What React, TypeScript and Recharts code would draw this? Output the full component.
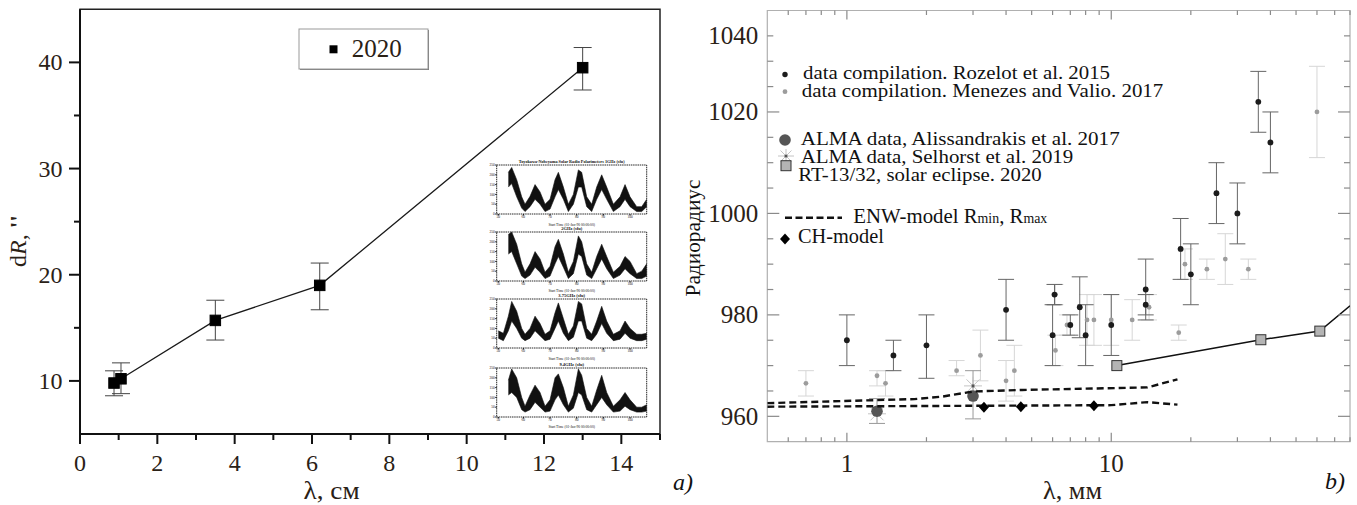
import React from "react";
import {
  ComposedChart,
  AreaChart,
  Area,
  Scatter,
  ErrorBar,
  XAxis,
  YAxis,
  ReferenceArea,
} from "recharts";

const SERIF = "'Liberation Serif', 'DejaVu Serif', serif";
const INK = "#2a2116";
const TXT = { fontFamily: SERIF };
const TICK_B = "#8a8a8a";

// ---- panel a) : dR vs wavelength, eclipse 2020 ----
const lambdaCm = [0.88, 1.06, 3.5, 6.2, 13.0];
const dR = [9.8, 10.2, 15.7, 19.0, 39.5];
const dRLow = [8.6, 8.8, 13.85, 16.7, 37.4];
const dRHigh = [10.95, 11.7, 17.6, 21.1, 41.4];
const xMajorA = [0, 2, 4, 6, 8, 10, 12, 14];
const xMinorA = [1, 3, 5, 7, 9, 11, 13, 15];
const yMajorA = [10, 20, 30, 40];
const yMinorA = [15, 25, 35];

// ---- inset (NoRP daily fluxes) ----
const insetX = [85, 100, 115, 125, 140, 155, 165, 180, 195, 210, 225, 240, 255, 265, 280, 295, 310, 325, 335, 350, 365, 380, 395, 410, 430, 450, 465, 480, 500, 515, 530];
const inset1Hi = [null, null, 0.85, 0.95, 0.7, 0.35, 0.2, 0.36, 0.6, 0.45, 0.2, 0.3, 0.7, 0.85, 0.55, 0.2, 0.4, 0.9, 0.85, 0.35, 0.2, 0.55, 0.8, 0.55, 0.2, 0.35, 0.6, 0.35, 0.15, 0.15, 0.3];
const inset1Lo = [null, null, 0.55, 0.62, 0.35, 0.12, 0.05, 0.15, 0.3, 0.2, 0.05, 0.1, 0.35, 0.5, 0.3, 0.05, 0.2, 0.55, 0.55, 0.15, 0.05, 0.3, 0.5, 0.3, 0.05, 0.15, 0.3, 0.15, 0.05, 0.05, 0.15];
const inset2Hi = [null, null, 0.95, 1.0, 0.75, 0.35, 0.18, 0.35, 0.6, 0.45, 0.18, 0.3, 0.7, 0.85, 0.55, 0.18, 0.4, 0.92, 0.8, 0.35, 0.18, 0.5, 0.75, 0.5, 0.18, 0.3, 0.5, 0.4, 0.15, 0.2, 0.35];
const inset2Lo = [null, null, 0.55, 0.6, 0.35, 0.1, 0.05, 0.12, 0.28, 0.18, 0.05, 0.1, 0.35, 0.5, 0.28, 0.05, 0.15, 0.55, 0.5, 0.12, 0.05, 0.25, 0.45, 0.25, 0.05, 0.12, 0.25, 0.15, 0.05, 0.05, 0.1];
const inset3Hi = [0.35, 0.3, 0.65, 0.95, 0.75, 0.4, 0.28, 0.4, 0.65, 0.5, 0.28, 0.35, 0.72, 0.92, 0.6, 0.28, 0.45, 0.95, 0.9, 0.4, 0.28, 0.55, 0.85, 0.55, 0.28, 0.35, 0.55, 0.4, 0.28, 0.28, 0.3];
const inset3Lo = [0.2, 0.15, 0.35, 0.55, 0.4, 0.2, 0.15, 0.2, 0.35, 0.25, 0.15, 0.18, 0.4, 0.55, 0.3, 0.15, 0.22, 0.55, 0.55, 0.2, 0.15, 0.28, 0.5, 0.3, 0.15, 0.18, 0.3, 0.2, 0.15, 0.15, 0.18];
const inset4Hi = [null, null, 0.75, 0.98, 0.8, 0.4, 0.22, 0.45, 0.65, 0.5, 0.22, 0.35, 0.8, 0.88, 0.6, 0.22, 0.45, 0.98, 0.85, 0.4, 0.22, 0.55, 0.85, 0.5, 0.22, 0.35, 0.5, 0.35, 0.2, 0.2, 0.25];
const inset4Lo = [null, null, 0.45, 0.5, 0.4, 0.15, 0.1, 0.15, 0.3, 0.2, 0.1, 0.12, 0.35, 0.45, 0.25, 0.1, 0.18, 0.5, 0.45, 0.15, 0.1, 0.25, 0.4, 0.25, 0.1, 0.12, 0.22, 0.15, 0.1, 0.1, 0.12];
const insetTitles = [
  "Toyokawa-Nobeyama Solar Radio Polarimeters 1GHz (sfu)",
  "2GHz (sfu)",
  "3.75GHz (sfu)",
  "9.4GHz (sfu)",
];
const insetTicks = [85, 160, 240, 320, 400, 480];
const insetTickText = ["50", "60", "70", "80", "90", "100"];
const insetYTicks = [0, 0.2, 0.4, 0.6, 0.8, 1.0];
const insetYText = ["0", "50", "100", "150", "200", "250"];

// ---- panel b) : radio radius vs wavelength ----
const rozX = [1.0, 1.5, 2.0, 4.0, 6.0, 6.1, 7.0, 7.6, 8.0, 10.0, 13.5, 13.5, 18.3, 20, 25, 30, 36, 40];
const rozY = [975, 972, 974, 981, 976, 984, 978, 981.5, 976, 978, 985, 982, 993, 988, 1004, 1000, 1022, 1014];
const rozLo = [970, 969, 967.5, 975, 970, 982, 976, 975.5, 970, 972, 979, 980, 987, 982, 998, 994, 1016, 1008];
const rozHi = [980, 975, 980, 987, 982, 986, 980, 987.5, 982, 984, 991, 984, 999, 994, 1010, 1006, 1028, 1020];

const menX = [0.7, 1.3, 1.4, 2.6, 3.2, 4.0, 4.3, 6.15, 6.15, 6.8, 8.1, 8.6, 10, 12, 13.9, 18, 19, 23, 27, 33, 60];
const menY = [966.5, 968, 966.5, 969, 972, 967, 969, 973, 984, 978, 979, 979, 979, 979, 981.5, 976.5, 990, 989, 991, 989, 1020];
const menLo = [964, 966, 964, 968, 967, 963, 964, 970, 982, 976, 974, 974, 974, 975, 979, 975, 987, 987, 986, 987, 1011];
const menHi = [969, 969, 969, 971, 977, 971, 974, 976, 986, 980, 984, 984, 984, 983, 984, 978, 993, 991, 996, 991, 1029];

const almaX = [1.3, 3.0];
const almaY = [961, 964];
const almaLo = [958.6, 959.5];
const almaHi = [963.5, 969];
const selX = [1.3, 3.0];
const selY = [960.5, 966];

const rtX = [10.5, 36.8, 61.5];
const rtY = [970, 975.1, 976.8];
const rtEdgeX = 80;
const rtEdgeY = 981.8;

const enwMaxX = [0.5, 1.3, 1.8, 2.3, 3.0, 4.6, 13.7, 17.8];
const enwMaxY = [962.6, 963.2, 963.4, 963.9, 964.9, 965.2, 965.7, 967.3];
const enwMinX = [0.5, 10, 13.7, 17.8];
const enwMinY = [961.9, 962.2, 962.8, 962.3];

const chX = [3.3, 4.55, 8.6];
const chY = [961.8, 961.9, 962.1];

const xMajorB = [1, 10];
const xMinorB = [0.6, 0.7, 0.8, 0.9, 2, 3, 4, 5, 6, 7, 8, 9, 20, 30, 40, 50, 60, 70, 80];
const yTicksB = [960, 965, 970, 975, 980, 985, 990, 995, 1000, 1005, 1010, 1015, 1020, 1025, 1030, 1035];
const yMajorB = [960, 980, 1000, 1020];
const yLabelTicksB = [960, 980, 1000, 1020, 1035];
const yLabelTextB = ["960", "980", "1000", "1020", "1040"];

const pts = (xs: number[], ys: number[], lo?: number[], hi?: number[]) =>
  xs.map((x, i) => ({
    x,
    y: ys[i],
    err: lo && hi ? [ys[i] - lo[i], hi[i] - ys[i]] : undefined,
  }));

// ---- ticks ----
function leftXTick(p: any) {
  const v = p.payload.value;
  const major = xMajorA.includes(v);
  return (
    <g>
      <line x1={p.x} x2={p.x} y1={p.y} y2={p.y + (major ? 10 : 6)} stroke="#111" strokeWidth={2} />
      {major ? (
        <text x={p.x} y={p.y + 37} textAnchor="middle" fontSize={24} style={TXT} fill={INK}>
          {v}
        </text>
      ) : null}
    </g>
  );
}

function leftYTick(p: any) {
  const v = p.payload.value;
  const major = yMajorA.includes(v);
  return (
    <g>
      <line x1={p.x} x2={p.x - (major ? 11 : 6)} y1={p.y} y2={p.y} stroke="#111" strokeWidth={2} />
      {major ? (
        <text x={p.x - 17.5} y={p.y + 8} textAnchor="end" fontSize={24} style={TXT} fill={INK}>
          {v}
        </text>
      ) : null}
    </g>
  );
}

function rightXTick(p: any) {
  const v = p.payload.value;
  const major = xMajorB.includes(v);
  return (
    <g>
      <line x1={p.x} x2={p.x} y1={p.y} y2={p.y - (major ? 9 : 4.5)} stroke={TICK_B} strokeWidth={1.2} />
      {major ? (
        <text x={p.x} y={p.y + 30} textAnchor="middle" fontSize={25} style={TXT} fill={INK}>
          {v}
        </text>
      ) : null}
    </g>
  );
}

function topXTick(p: any) {
  const major = xMajorB.includes(p.payload.value);
  return <line x1={p.x} x2={p.x} y1={p.y} y2={p.y + (major ? 9 : 4.5)} stroke={TICK_B} strokeWidth={1.2} />;
}

function rightYTick(p: any) {
  const v = p.payload.value;
  const major = yMajorB.includes(v);
  const li = yLabelTicksB.indexOf(v);
  return (
    <g>
      <line x1={p.x} x2={p.x + (major ? 12 : 6)} y1={p.y} y2={p.y} stroke={TICK_B} strokeWidth={1.2} />
      {li >= 0 ? (
        <text x={p.x - 9} y={p.y + 8.5} textAnchor="end" fontSize={25} style={TXT} fill={INK}>
          {yLabelTextB[li]}
        </text>
      ) : null}
    </g>
  );
}

function farYTick(p: any) {
  const major = yMajorB.includes(p.payload.value);
  return <line x1={p.x} x2={p.x - (major ? 12 : 6)} y1={p.y} y2={p.y} stroke={TICK_B} strokeWidth={1.2} />;
}

// ---- marker shapes ----
const square = (s: number, fill: string, stroke: string) => (p: any) =>
  <rect x={p.cx - s / 2} y={p.cy - s / 2} width={s} height={s} fill={fill} stroke={stroke} strokeWidth={1} />;
const dot = (r: number, fill: string) => (p: any) => <circle cx={p.cx} cy={p.cy} r={r} fill={fill} />;
const diamond = (p: any) => (
  <polygon
    points={`${p.cx},${p.cy - 5.5} ${p.cx + 5},${p.cy} ${p.cx},${p.cy + 5.5} ${p.cx - 5},${p.cy}`}
    fill="#000"
  />
);
const star = (p: any) => (
  <g stroke="#c4c4c4" strokeWidth={1}>
    <line x1={p.cx - 9} x2={p.cx + 9} y1={p.cy} y2={p.cy} />
    <line x1={p.cx} x2={p.cx} y1={p.cy - 9} y2={p.cy + 9} />
    <line x1={p.cx - 6.5} x2={p.cx + 6.5} y1={p.cy - 6.5} y2={p.cy + 6.5} />
    <line x1={p.cx - 6.5} x2={p.cx + 6.5} y1={p.cy + 6.5} y2={p.cy - 6.5} />
    <circle cx={p.cx} cy={p.cy} r={1.6} fill="#555" stroke="none" />
  </g>
);
const none = () => <g />;

function InsetPanel({ top, hi, lo }: { top: number; hi: (number | null)[]; lo: (number | null)[] }) {
  const rows = insetX
    .map((x, i) => ({ x, band: hi[i] == null ? null : [lo[i], hi[i]] }))
    .filter((r) => r.band);
  return (
    <div style={{ position: "absolute", left: 480, top: top - 10 }}>
      <AreaChart width={175} height={75} data={rows} margin={{ top: 10, right: 8.3, bottom: 10, left: 0 }}>
        <XAxis
          type="number"
          dataKey="x"
          domain={[80, 530]}
          ticks={insetTicks}
          interval={0}
          height={6}
          tickSize={1.5}
          tickMargin={0.5}
          axisLine={false}
          stroke="#111"
          tick={{ fontSize: 3.5, fill: "#111" }}
          tickFormatter={(_v: number, i: number) => insetTickText[i]}
        />
        <YAxis
          type="number"
          domain={[0, 1]}
          ticks={insetYTicks}
          interval={0}
          width={16.7}
          tickSize={1.5}
          tickMargin={0.5}
          axisLine={false}
          stroke="#111"
          tick={{ fontSize: 3.5, fill: "#111" }}
          tickFormatter={(_v: number, i: number) => insetYText[i]}
        />
        <ReferenceArea x1={80} x2={530} y1={0} y2={1} fill="none" stroke="#111" strokeWidth={0.9} strokeDasharray="1.5 0.7" />
        <Area
          dataKey="band"
          type="linear"
          stroke="#111"
          strokeWidth={0.6}
          fill="#111"
          fillOpacity={1}
          dot={false}
          activeDot={false}
          isAnimationActive={false}
        />
      </AreaChart>
    </div>
  );
}

export default function App() {
  const dataA = pts(lambdaCm, dR, dRLow, dRHigh);
  const insetTops = [165, 231.7, 299.3, 367.7];
  const insetHi = [inset1Hi, inset2Hi, inset3Hi, inset4Hi];
  const insetLo = [inset1Lo, inset2Lo, inset3Lo, inset4Lo];
  const xTicksB = [...xMajorB, ...xMinorB].sort((a, b) => a - b);

  return (
    <div style={{ position: "absolute", left: 0, top: 0, width: 1357, height: 505, background: "#fff", overflow: "hidden", fontFamily: SERIF }}>
      {/* panel a */}
      <div style={{ position: "absolute", left: 0, top: 0 }}>
        <ComposedChart width={680} height={505} margin={{ top: 9.3, right: 20, bottom: 41, left: 0 }}>
          <XAxis
            type="number"
            dataKey="x"
            domain={[0, 15]}
            ticks={[...xMajorA, ...xMinorA].sort((a, b) => a - b)}
            interval={0}
            height={30}
            tickSize={0}
            tickMargin={0}
            tickLine={false}
            axisLine={{ stroke: "#111", strokeWidth: 2 }}
            tick={leftXTick}
          />
          <YAxis
            type="number"
            dataKey="y"
            domain={[5, 45]}
            ticks={[...yMajorA, ...yMinorA].sort((a, b) => a - b)}
            interval={0}
            width={80}
            tickSize={0}
            tickMargin={0}
            tickLine={false}
            axisLine={{ stroke: "#111", strokeWidth: 2 }}
            tick={leftYTick}
          />
          <ReferenceArea x1={0} x2={15} y1={5} y2={45} fill="none" stroke="#222" strokeWidth={1.5} />
          <Scatter
            data={dataA}
            line={{ stroke: "#1a1a1a", strokeWidth: 1.3 }}
            lineType="joint"
            shape={square(10.5, "#000", "#000")}
            isAnimationActive={false}
          >
            <ErrorBar dataKey="err" direction="y" width={9} stroke="#444" strokeWidth={1} isAnimationActive={false} />
          </Scatter>
        </ComposedChart>
      </div>

      {insetTops.map((t, i) => (
        <InsetPanel key={i} top={t} hi={insetHi[i]} lo={insetLo[i]} />
      ))}

      {/* panel b */}
      <div style={{ position: "absolute", left: 680, top: 0 }}>
        <ComposedChart width={677} height={505} margin={{ top: 9.5, right: 6, bottom: 33.3, left: 0 }}>
          <XAxis
            type="number"
            dataKey="x"
            scale="log"
            domain={[0.5, 80]}
            allowDataOverflow
            ticks={xTicksB}
            interval={0}
            height={30}
            tickSize={0}
            tickMargin={0}
            tickLine={false}
            axisLine={false}
            tick={rightXTick}
          />
          <XAxis
            xAxisId="top"
            orientation="top"
            type="number"
            dataKey="x"
            scale="log"
            domain={[0.5, 80]}
            allowDataOverflow
            ticks={xTicksB}
            interval={0}
            height={1}
            tickSize={0}
            tickMargin={0}
            tickLine={false}
            axisLine={false}
            tick={topXTick}
          />
          <YAxis
            type="number"
            dataKey="y"
            domain={[955, 1040]}
            allowDataOverflow
            ticks={yTicksB}
            interval={0}
            width={87.3}
            tickSize={0}
            tickMargin={0}
            tickLine={false}
            axisLine={false}
            tick={rightYTick}
          />
          <YAxis
            yAxisId="far"
            orientation="right"
            type="number"
            dataKey="y"
            domain={[955, 1040]}
            allowDataOverflow
            ticks={yTicksB}
            interval={0}
            width={1}
            tickSize={0}
            tickMargin={0}
            tickLine={false}
            axisLine={false}
            tick={farYTick}
          />
          <ReferenceArea x1={0.5} x2={80} y1={955} y2={1040} fill="none" stroke="#b0b0b0" strokeWidth={1.2} />

          {/* invisible series so the top/right tick axes get their scales */}
          <Scatter xAxisId="top" yAxisId="far" data={pts(rtX, rtY)} shape={none} isAnimationActive={false} />

          <Scatter data={pts(menX, menY, menLo, menHi)} shape={dot(2.4, "#9c9c9c")} isAnimationActive={false}>
            <ErrorBar dataKey="err" direction="y" width={8} stroke="#d6d6d6" strokeWidth={1} isAnimationActive={false} />
          </Scatter>
          <Scatter data={pts(rozX, rozY, rozLo, rozHi)} shape={dot(2.9, "#1c1c1c")} isAnimationActive={false}>
            <ErrorBar dataKey="err" direction="y" width={8} stroke="#666" strokeWidth={1} isAnimationActive={false} />
          </Scatter>
          <Scatter data={pts(selX, selY)} shape={star} isAnimationActive={false} />
          <Scatter data={pts(almaX, almaY, almaLo, almaHi)} shape={dot(5.8, "#555")} isAnimationActive={false}>
            <ErrorBar dataKey="err" direction="y" width={8} stroke="#999" strokeWidth={1} isAnimationActive={false} />
          </Scatter>

          <Scatter
            data={pts(enwMaxX, enwMaxY)}
            shape={none}
            line={{ stroke: "#111", strokeWidth: 2.4, strokeDasharray: "7 4" }}
            lineType="joint"
            isAnimationActive={false}
          />
          <Scatter
            data={pts(enwMinX, enwMinY)}
            shape={none}
            line={{ stroke: "#111", strokeWidth: 2.4, strokeDasharray: "7 4" }}
            lineType="joint"
            isAnimationActive={false}
          />
          <Scatter data={pts(chX, chY)} shape={diamond} isAnimationActive={false} />

          <Scatter
            data={pts([...rtX, rtEdgeX], [...rtY, rtEdgeY])}
            shape={none}
            line={{ stroke: "#111", strokeWidth: 1.5 }}
            lineType="joint"
            isAnimationActive={false}
          />
          <Scatter data={pts(rtX, rtY)} shape={square(10, "#b4b4b4", "#333")} isAnimationActive={false} />
        </ComposedChart>
      </div>

      {/* texts and legends */}
      <svg
        width={1357}
        height={505}
        style={{ position: "absolute", left: 0, top: 0, pointerEvents: "none", fontFamily: SERIF }}
      >
        {/* panel a legend */}
        <rect x={300} y={30} width={129} height={40} fill="#777" />
        <rect x={299} y={29} width={129} height={40} fill="#fff" stroke="#999" strokeWidth={1} />
        <rect x={329.5} y={45.3} width={8} height={8} fill="#000" />
        <text x={351.7} y={57.3} fontSize={25} fill={INK} style={TXT}>2020</text>

        <text transform="translate(26,241) rotate(-90)" textAnchor="middle" fontSize={24} fill={INK} style={TXT}>
          d<tspan fontStyle="italic">R</tspan>, <tspan fontWeight="bold">''</tspan>
        </text>
        <text x={303.6} y={499} fontSize={25} fill={INK} style={TXT} textLength={56} lengthAdjust="spacingAndGlyphs">λ, см</text>
        <text x={673} y={490} fontSize={24} fontStyle="italic" fill="#111" style={TXT}>a)</text>

        {/* inset titles */}
        {insetTops.map((t, i) => (
          <g key={i}>
            <text x={571.7} y={t - 2} fontSize={i === 0 ? 4.2 : 4.5} textAnchor="middle" fill="#111" fontWeight="bold" style={TXT}>
              {insetTitles[i]}
            </text>
            <text x={571.7} y={t + 60.5} fontSize={3.6} textAnchor="middle" fill="#111" style={TXT}>
              Start Time (01-Jan-90 00:00:00)
            </text>
          </g>
        ))}

        {/* panel b labels */}
        <text transform="translate(700,238) rotate(-90)" textAnchor="middle" fontSize={21} fill="#111" style={TXT} textLength={117} lengthAdjust="spacingAndGlyphs">
          Радиорадиус
        </text>
        <text x={1043} y={499} fontSize={25} fill={INK} style={TXT} textLength={59} lengthAdjust="spacingAndGlyphs">λ, мм</text>
        <text x={1325} y={489} fontSize={24} fontStyle="italic" fill="#111" style={TXT}>b)</text>

        {/* panel b legend */}
        <circle cx={785} cy={74.5} r={2.7} fill="#1c1c1c" />
        <text x={803} y={79.3} fontSize={18.5} fill="#111" style={TXT} textLength={307} lengthAdjust="spacingAndGlyphs">
          data compilation. Rozelot et al. 2015
        </text>
        <circle cx={785} cy={91.7} r={2.4} fill="#9c9c9c" />
        <text x={801.7} y={96.7} fontSize={18.5} fill="#111" style={TXT} textLength={361.6} lengthAdjust="spacingAndGlyphs">
          data compilation. Menezes and Valio. 2017
        </text>
        <circle cx={785} cy={140} r={5.8} fill="#555" />
        <text x={800.7} y={145} fontSize={19.5} fill="#111" style={TXT} textLength={319} lengthAdjust="spacingAndGlyphs">
          ALMA data, Alissandrakis et al. 2017
        </text>
        <g stroke="#c4c4c4" strokeWidth={1}>
          <line x1={778} x2={794} y1={156} y2={156} />
          <line x1={786} x2={786} y1={149} y2={163} />
          <line x1={780.5} x2={791.5} y1={150.5} y2={161.5} />
          <line x1={780.5} x2={791.5} y1={161.5} y2={150.5} />
        </g>
        <circle cx={786} cy={156} r={1.6} fill="#555" />
        <text x={800.7} y={162.8} fontSize={18.5} fill="#111" style={TXT} textLength={272.6} lengthAdjust="spacingAndGlyphs">
          ALMA data, Selhorst et al. 2019
        </text>
        <rect x={781} y={160.7} width={10} height={10} fill="#b4b4b4" stroke="#333" strokeWidth={1} />
        <text x={798.3} y={181} fontSize={18.5} fill="#111" style={TXT} textLength={243.4} lengthAdjust="spacingAndGlyphs">
          RT-13/32, solar eclipse. 2020
        </text>
        <line x1={785} x2={842} y1={217.7} y2={217.7} stroke="#111" strokeWidth={2.4} strokeDasharray="7 3.5" />
        <text x={853.3} y={223} fontSize={21} fill="#111" style={TXT} textLength={194} lengthAdjust="spacingAndGlyphs">
          ENW-model R<tspan fontSize={14}>min</tspan>, R<tspan fontSize={14}>max</tspan>
        </text>
        <polygon points="785,233.5 790,239 785,244.5 780,239" fill="#000" />
        <text x={798} y={243.3} fontSize={21} fill="#111" style={TXT} textLength={85.8} lengthAdjust="spacingAndGlyphs">
          CH-model
        </text>
      </svg>
    </div>
  );
}
